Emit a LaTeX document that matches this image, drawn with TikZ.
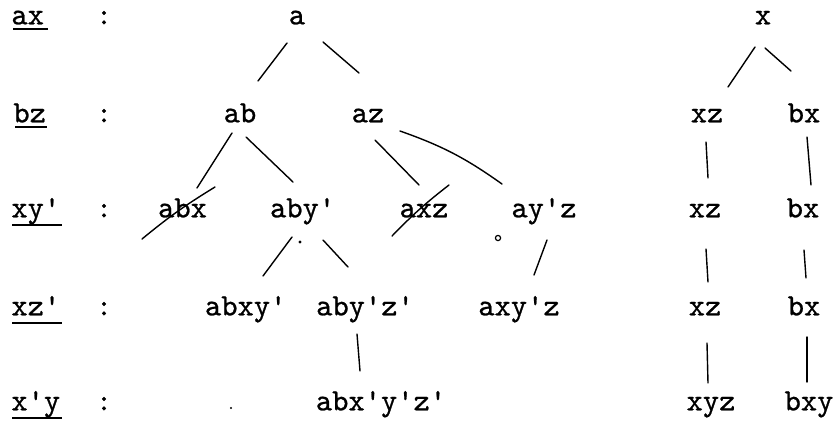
\documentclass[tikz,border=0pt]{standalone}
\usepackage{fontspec}
\setmonofont{lmmono10-regular.otf}[FakeBold=0.8]
\begin{document}
\begin{tikzpicture}[x=0.5pt,y=-0.5pt,
  t/.style={font=\ttfamily\fontsize{15.5}{18}\selectfont, inner sep=0pt, anchor=mid},
  lab/.style={t, anchor=mid west},
  ln/.style={line width=0.7pt, line cap=round},
  ul/.style={line width=1.1pt},
  speck/.style={fill=black, draw=none}
]
\useasboundingbox (0,0) rectangle (835,425);

% row labels
\node[lab] (L1) at (11,20) {ax};
\node[lab] (L2) at (13,118) {bz};
\node[lab] (L3) at (11,213) {xy'};
\node[lab] (L4) at (11,311) {xz'};
\node[lab] (L5) at (11,406) {x'y};
\draw[ul] ([shift={(2,9)}]L1.mid west) -- ([shift={(37,9)}]L1.mid west);
\draw[ul] ([shift={(2,9)}]L2.mid west) -- ([shift={(34,9)}]L2.mid west);
\draw[ul] ([shift={(1,12)}]L3.mid west) -- ([shift={(51,12)}]L3.mid west);
\draw[ul] ([shift={(1,12)}]L4.mid west) -- ([shift={(51,12)}]L4.mid west);
\draw[ul] ([shift={(1,12)}]L5.mid west) -- ([shift={(51,12)}]L5.mid west);

% colons
\node[t] (c1) at (104,20) {:};
\node[t] (c2) at (104,118) {:};
\node[t] (c3) at (104,213) {:};
\node[t] (c4) at (104,311) {:};
\node[t] (c5) at (104,406) {:};

% main tree
\node[t] (a) at (297,20) {a};
\node[t] (ab) at (240,118) {ab};
\node[t] (az) at (368,118) {az};
\node[t] (abx) at (182.5,213) {abx};
\node[t] (aby) at (302.6,213) {aby'};
\node[t] (axz) at (424,213) {axz};
\node[t] (ayz) at (544,213) {ay'z};
\node[t] (abxy) at (245.7,311) {abxy'};
\node[t] (abyz) at (365,311) {aby'z'};
\node[t] (axyz) at (519,311) {axy'z};
\node[t] (abxyz) at (381,406) {abx'y'z'};

\draw[ln] ([shift={(-10,23)}]a.mid) -- ([shift={(18,-37)}]ab.mid);
\draw[ln] ([shift={(26,22)}]a.mid) -- ([shift={(-9,-45)}]az.mid);
\draw[ln] ([shift={(-8,15)}]ab.mid) -- ([shift={(14.5,-25)}]abx.mid);
\draw[ln] ([shift={(6,19)}]ab.mid) -- ([shift={(-9.6,-31)}]aby.mid);
\draw[ln] ([shift={(7,22)}]az.mid) -- ([shift={(-5,-28)}]axz.mid);
\draw[ln] ([shift={(32,13)}]az.mid) to[bend left=8] ([shift={(-42,-29)}]ayz.mid);
\draw[ln] ([shift={(-10.6,24)}]aby.mid) -- ([shift={(17.3,-35)}]abxy.mid);
\draw[ln] ([shift={(20.4,27)}]aby.mid) -- ([shift={(-17,-44)}]abyz.mid);
\draw[ln] ([shift={(3,27)}]ayz.mid) -- ([shift={(15,-36)}]axyz.mid);
\draw[ln] ([shift={(-8,23)}]abyz.mid) -- ([shift={(-21,-35)}]abxyz.mid);

% strike-throughs
\draw[ln] ([shift={(-40.5,26)}]abx.mid) to[bend left=4] ([shift={(32.5,-26)}]abx.mid);
\draw[ln] ([shift={(-32,23)}]axz.mid) to[bend left=4] ([shift={(25,-28)}]axz.mid);

% right tree
\node[t] (x) at (763,20) {x};
\node[t] (xz2) at (707,118) {xz};
\node[t] (bx2) at (804,118) {bx};
\node[t] (xz3) at (705,213) {xz};
\node[t] (bx3) at (803,213) {bx};
\node[t] (xz4) at (705,311) {xz};
\node[t] (bx4) at (804,311) {bx};
\node[t] (xyz) at (711,406) {xyz};
\node[t] (bxy) at (809,406) {bxy};

\draw[ln] ([shift={(-8,27)}]x.mid) -- ([shift={(21,-31)}]xz2.mid);
\draw[ln] ([shift={(2,28)}]x.mid) -- ([shift={(-13,-47)}]bx2.mid);
\draw[ln] ([shift={(-1,24)}]xz2.mid) -- ([shift={(3,-35)}]xz3.mid);
\draw[ln] ([shift={(3,19)}]bx2.mid) -- ([shift={(8,-28)}]bx3.mid);
\draw[ln] ([shift={(1,36)}]xz3.mid) -- ([shift={(3,-29)}]xz4.mid);
\draw[ln] ([shift={(1,37)}]bx3.mid) -- ([shift={(2,-33)}]bx4.mid);
\draw[ln] ([shift={(2,32)}]xz4.mid) -- ([shift={(-3,-23)}]xyz.mid);
\draw[ln] ([shift={(3,26)}]bx4.mid) -- ([shift={(-2,-24)}]bxy.mid);

% specks
\fill[speck] (300,242) circle (1.6);
\draw[line width=0.6pt] (498,238) circle (2.6);
\fill[speck] (231,408) circle (1.2);
\end{tikzpicture}
\end{document}
